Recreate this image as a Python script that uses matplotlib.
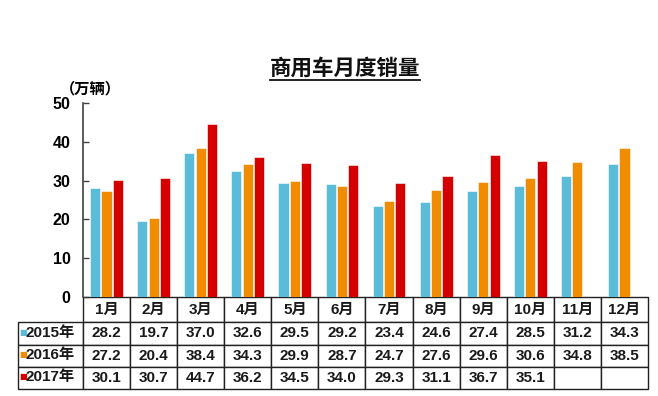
import matplotlib
matplotlib.use("Agg")
import matplotlib.pyplot as plt
import numpy as np
from matplotlib.lines import Line2D

FONTS = ['Liberation Sans', 'Noto Sans CJK SC']
plt.rcParams['font.family'] = FONTS

months = ['1月', '2月', '3月', '4月', '5月', '6月', '7月', '8月', '9月', '10月', '11月', '12月']
years = ['2015年', '2016年', '2017年']
sales_2015 = [28.2, 19.7, 37.0, 32.6, 29.5, 29.2, 23.4, 24.6, 27.4, 28.5, 31.2, 34.3]
sales_2016 = [27.2, 20.4, 38.4, 34.3, 29.9, 28.7, 24.7, 27.6, 29.6, 30.6, 34.8, 38.5]
sales_2017 = [30.1, 30.7, 44.7, 36.2, 34.5, 34.0, 29.3, 31.1, 36.7, 35.1, None, None]
colors = ['#5BBCDA', '#F08C00', '#D40000']

series = [sales_2015, sales_2016, sales_2017]

fig = plt.figure(figsize=(6.58, 3.96), dpi=100)
ax = fig.add_axes([83 / 658, 1 - 297 / 396, 565 / 658, 194 / 396])

x = np.arange(len(months))
width = 0.215
offsets = [-0.242, 0.0, 0.242]
for vals, c, off in zip(series, colors, offsets):
    v = np.array([np.nan if s is None else s for s in vals], dtype=float)
    ax.bar(x + off, v, width=width, color=c, edgecolor='white', linewidth=0.4)

ax.set_xlim(-0.5, len(months) - 0.5)
ax.set_ylim(0, 50)
ax.set_yticks([0, 10, 20, 30, 40, 50])
ax.set_xticks([])
ax.tick_params(axis='y', direction='in', length=4, width=1, color='#404040',
               labelsize=11.5, pad=9)
for lab in ax.get_yticklabels():
    lab.set_fontweight('bold')
for s in ['top', 'right', 'bottom']:
    ax.spines[s].set_visible(False)
ax.spines['left'].set_color('#404040')
ax.spines['left'].set_linewidth(1.2)

# data table under the bars
cell_text = [[''] + months]
for yr, vals in zip(years, series):
    cell_text.append([''] + ['' if s is None else f'{s:.1f}' for s in vals])

label_w = 65 / 565
tab = ax.table(cellText=cell_text, cellLoc='center',
               bbox=[-label_w, -92 / 194, 1 + label_w, 92 / 194])
tab.auto_set_font_size(False)
row_h = [25, 22, 22, 22]
for (r, c), cell in tab.get_celld().items():
    cell.set_height(row_h[r])
    cell.set_width(65 if c == 0 else 565 / 12)
    cell.set_edgecolor('#222222')
    cell.set_linewidth(1.0)
    t = cell.get_text()
    t.set_fontsize(11)
    t.set_fontweight('bold')
    t.set_family(FONTS)
    t.set_color('#1a1a1a')
    if r == 0 and c == 0:
        cell.visible_edges = 'open'

# row labels with colored squares
row_centers = [-(25 + 11) / 194, -(25 + 33) / 194, -(25 + 55) / 194]
for yr, c, yc in zip(years, colors, row_centers):
    ax.text(-label_w + 0.002, yc, '■', color=c, fontsize=6, ha='left', va='center',
            transform=ax.transAxes, family=['DejaVu Sans'])
    ax.text(-label_w + 0.0135, yc, yr, color='#1a1a1a', fontsize=11, fontweight='bold',
            ha='left', va='center', transform=ax.transAxes, family=FONTS)

# unit label
fig.text(60 / 658, 1 - 88 / 396, '（万辆）', fontsize=11, fontweight='bold',
         ha='left', va='center', family=['Noto Sans CJK SC'])

# underlined title
title = fig.text(345 / 658, 1 - 68 / 396, '商用车月度销量', fontsize=15.5, fontweight='bold',
                 ha='center', va='center', family=['Noto Sans CJK SC'], color='#111111')
fig.canvas.draw()
bb = title.get_window_extent(fig.canvas.get_renderer())
uy = (bb.y0 - 1) / fig.bbox.height
fig.add_artist(Line2D([bb.x0 / fig.bbox.width, bb.x1 / fig.bbox.width], [uy, uy],
                      transform=fig.transFigure, color='#111111', linewidth=1.3))

fig.savefig('out.png', dpi=100)
